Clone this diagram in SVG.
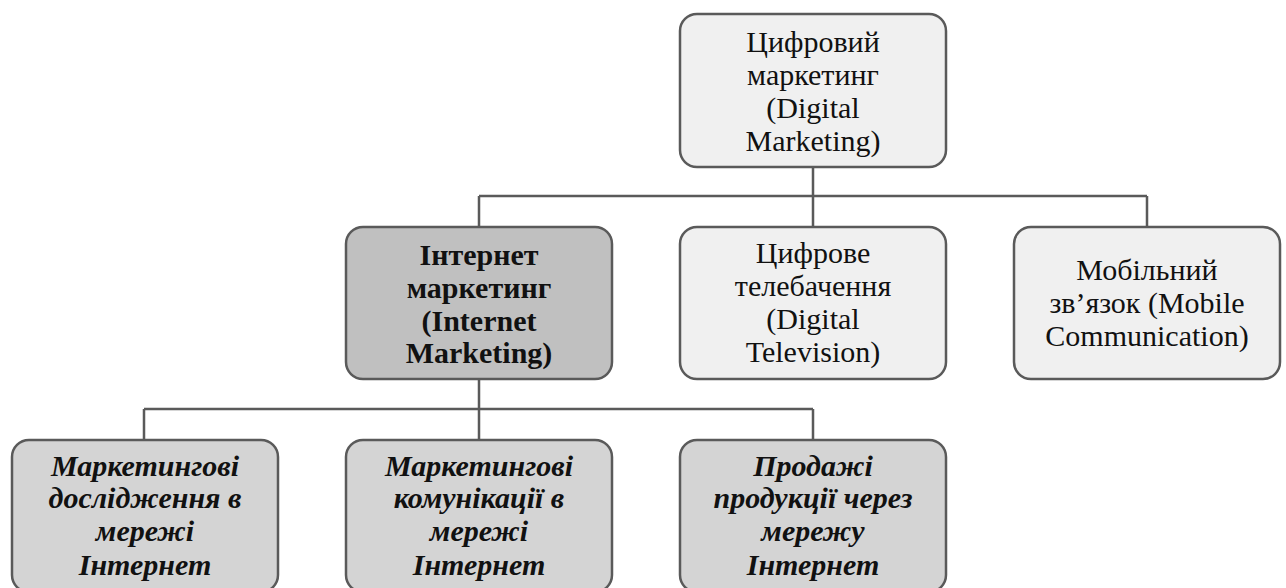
<svg xmlns="http://www.w3.org/2000/svg" width="1286" height="588" viewBox="0 0 1286 588">
<style>
.box{stroke:#5a5a5a;stroke-width:2.5}
.light{fill:#f0f0f0}
.dark{fill:#c0c0c0}
.mid{fill:#d4d4d4}
.t{font-family:"Liberation Serif","Times New Roman","DejaVu Serif",serif;font-size:30px;fill:#111;text-anchor:middle}
.b{font-weight:bold}
.bi{font-weight:bold;font-style:italic}
.conn{fill:none;stroke:#5a5a5a;stroke-width:2.5}
</style>
<rect width="1286" height="588" fill="#ffffff"/>
<g id="connectors">
<path class="conn" d="M813 167V196M479 196H1147M479 196V227M813 196V227M1147 196V227"/>
<path class="conn" d="M479 379V409M144 409H813M144 409V440M479 409V440M813 409V440"/>
</g>
<g id="digital-marketing" class="t">
<rect class="box light" x="680" y="14" width="266" height="153" rx="17"/>
<text x="813" y="52">Цифровий</text>
<text x="813" y="85">маркетинг</text>
<text x="813" y="118">(Digital</text>
<text x="813" y="151">Marketing)</text>
</g>
<g id="internet-marketing" class="t b">
<rect class="box dark" x="346" y="227" width="266" height="152" rx="17"/>
<text x="479" y="265">Інтернет</text>
<text x="479" y="298">маркетинг</text>
<text x="479" y="331">(Internet</text>
<text x="479" y="363">Marketing)</text>
</g>
<g id="digital-tv" class="t">
<rect class="box light" x="680" y="227" width="266" height="152" rx="17"/>
<text x="813" y="263">Цифрове</text>
<text x="813" y="296">телебачення</text>
<text x="813" y="329">(Digital</text>
<text x="813" y="362">Television)</text>
</g>
<g id="mobile" class="t">
<rect class="box light" x="1014" y="227" width="266" height="152" rx="17"/>
<text x="1147" y="280">Мобільний</text>
<text x="1147" y="313">зв’язок (Mobile</text>
<text x="1147" y="346">Communication)</text>
</g>
<g id="research" class="t bi">
<rect class="box mid" x="12" y="440" width="266" height="152" rx="17"/>
<text x="145" y="476">Маркетингові</text>
<text x="145" y="508">дослідження в</text>
<text x="145" y="541">мережі</text>
<text x="145" y="575">Інтернет</text>
</g>
<g id="communications" class="t bi">
<rect class="box mid" x="346" y="440" width="266" height="152" rx="17"/>
<text x="479" y="476">Маркетингові</text>
<text x="479" y="508">комунікації в</text>
<text x="479" y="541">мережі</text>
<text x="479" y="575">Інтернет</text>
</g>
<g id="sales" class="t bi">
<rect class="box mid" x="680" y="440" width="266" height="152" rx="17"/>
<text x="813" y="476">Продажі</text>
<text x="813" y="508">продукції через</text>
<text x="813" y="541">мережу</text>
<text x="813" y="575">Інтернет</text>
</g>
</svg>
